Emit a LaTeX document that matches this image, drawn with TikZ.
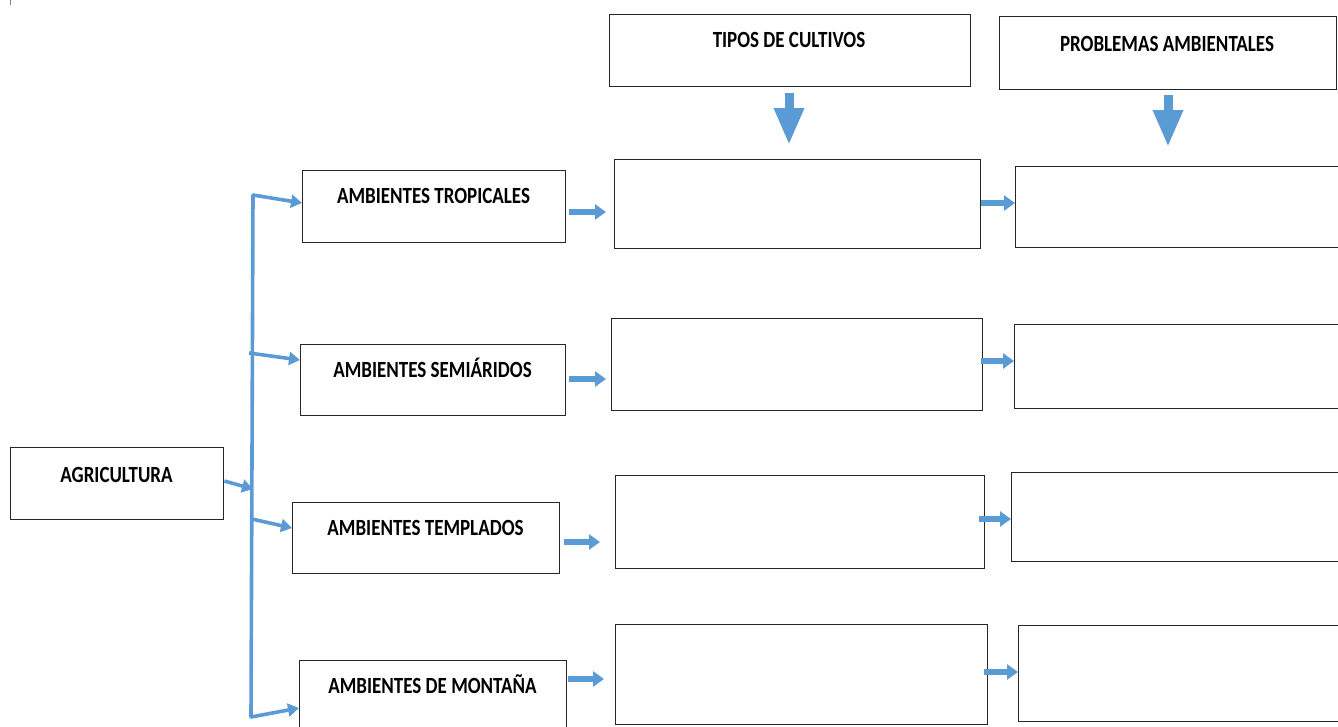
\documentclass[tikz,border=0pt]{standalone}
\usepackage{fontspec}
\setmainfont{Carlito}
\usetikzlibrary{arrows.meta}
\definecolor{arrowblue}{HTML}{5B9BD5}
\tikzset{
  x=1pt, y=-1pt,
  box/.style={draw=black!85, line width=1.4pt, anchor=north west, inner sep=0pt, fill=white},
  txt/.style={font=\bfseries\fontsize{19}{22}\selectfont, inner sep=0pt, anchor=base},
  tree/.style={draw=arrowblue, line width=3.6pt, -{Triangle[length=11pt,width=13pt]}},
  plain/.style={draw=arrowblue, line width=3.6pt},
  small/.style={draw=arrowblue, line width=5.5pt, -{Triangle[length=11pt,width=15pt]}},
  big/.style={draw=arrowblue, line width=9pt, -{Triangle[length=37pt,width=28pt]}},
}
\newcommand{\bx}[5]{\node[box, minimum width=#3-#1, minimum height=#4-#2] (#5) at (#1,#2) {};}
\newcommand{\tall}[1]{\scalebox{1}[1.22]{#1}}
\begin{document}
\begin{tikzpicture}
\useasboundingbox (0,0) rectangle (1338,726);
\draw[black!50, line width=1pt] (10,0) -- (10,5);
% headers
\bx{609}{14}{970}{86}{tipos}
\bx{999}{16}{1336}{89}{prob}
\node[txt] at (789,47) {\tall{TIPOS DE CULTIVOS}};
\node[txt] at (1167,51) {\tall{PROBLEMAS AMBIENTALES}};
% left
\bx{10}{447}{223}{519}{agri}
\node[txt] at (116.5,482) {\tall{AGRICULTURA}};
\bx{302}{170}{565}{242}{trop}
\bx{300}{344}{565}{415}{semi}
\bx{292}{502}{559}{573}{templ}
\bx{299}{660}{566}{740}{mont}
\node[txt] at (433.5,203) {\tall{AMBIENTES TROPICALES}};
\node[txt] at (432.5,377) {\tall{AMBIENTES SEMIÁRIDOS}};
\node[txt] at (425.5,535) {\tall{AMBIENTES TEMPLADOS}};
\node[txt] at (432.5,693) {\tall{AMBIENTES DE MONTAÑA}};
% middle
\bx{614}{159}{980}{248}{m1}
\bx{611}{318}{982}{410}{m2}
\bx{615}{475}{984}{568}{m3}
\bx{615}{624}{987}{724}{m4}
% right
\bx{1015}{166}{1345}{247}{r1}
\bx{1014}{324}{1345}{408}{r2}
\bx{1011}{472}{1345}{561}{r3}
\bx{1018}{625}{1345}{721}{r4}
% big down arrows
\draw[big] (tipos.south -| 789,0) ++(0,6) -- (789,145);
\draw[big] (prob.south -| 1168,0) ++(0,5) -- (1168,147);
% tree
\coordinate (t1) at (253,195);
\coordinate (t2) at (249,353);
\coordinate (t3) at (252,519);
\coordinate (t4) at (251,717);
\coordinate (tj) at (253,489);
\draw[plain, line cap=round] (t1) -- (t4);
\draw[tree] (agri.east |- 0,481) -- (tj);
\draw[tree] (t1) -- (trop.west |- 0,203);
\draw[tree] (t2) -- (semi.west |- 0,360);
\draw[tree] (t3) -- (templ.west |- 0,528);
\draw[tree] (t4) -- (mont.west |- 0,708);
% small arrows box -> middle
\draw[small] (trop.east |- 0,212) ++(3,0) -- (606,212);
\draw[small] (semi.east |- 0,379) ++(3,0) -- (606,379);
\draw[small] (templ.east |- 0,542) ++(4,0) -- (600,542);
\draw[small] (mont.east |- 0,679) ++(1,0) -- (604,679);
% middle -> right
\draw[small] (m1.east |- 0,203) -- (r1.west |- 0,203);
\draw[small] (m2.east |- 0,361) ++(-2,0) -- (r2.west |- 0,361);
\draw[small] (m3.east |- 0,519) ++(-6,0) -- (r3.west |- 0,519);
\draw[small] (m4.east |- 0,672) ++(-4,0) -- (r4.west |- 0,672);
\end{tikzpicture}
\end{document}
